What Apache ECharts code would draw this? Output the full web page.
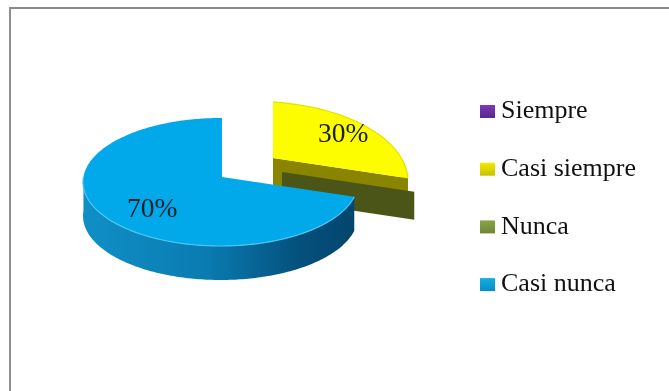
<!DOCTYPE html>
<html>
<head>
<meta charset="utf-8">
<style>html,body{margin:0;padding:0;background:#fff}#c{width:669px;height:391px;filter:blur(0.4px)}</style>
<script src="https://cdn.jsdelivr.net/npm/echarts@6/dist/echarts.min.js"></script>
</head>
<body>
<div id="c"></div>
<script>
const categories = ['Siempre', 'Casi siempre', 'Nunca', 'Casi nunca'];
const values = [0, 30, 0, 70];
const labels = ['', '30%', '', '70%'];

const topColors = ['#6a2fa0', '#fdfd00', '#7f9a3f', '#02a9ea'];
const wallColors = ['#4a2070', '#8a8500', '#4b5518', '#04507c'];
const rimStrokes = ['#6a2fa0', '#e2e200', '#7f9a3f', '#4cc6f2'];
const legendTop = ['#7a3cb4', '#f2ea00', '#8aa548', '#14aee6'];
const legendBottom = ['#5a2590', '#c8c000', '#6d8635', '#0a8cc4'];
// each slice: apex on screen, and the ellipse its rim lies on
const apexX = [222, 273, 282, 222];
const apexY = [177, 158, 172, 177];
const ellipseX = [220.5, 255, 280.5, 220.5];
const ellipseY = [182, 181.5, 177, 182];
const radiusX = [137.5, 153, 137.5, 137.5];
const radiusY = [64, 80, 64, 64];
const depth = [0, 28, 28, 34];
const rayX = 139, rayY = 64;
const labelFraction = [0.62, 0.75, 0.62, 0.593];
const labelDy = [0, 0, 0, 9];

const total = values.reduce((a, b) => a + b, 0);
const starts = values.map((_, i) => values.slice(0, i).reduce((a, b) => a + b, 0) / total * 360);

function renderSlice(i) {
  return function (params, api) {
    const value = api.value(0);
    const a0 = starts[i], a1 = a0 + value / total * 360;
    const ax = apexX[i], ay = apexY[i], d = depth[i];
    const apex = [ax, ay];
    // rim point: cast a ray from the apex at this pie angle onto the slice's ellipse
    const at = deg => {
      const r = deg * Math.PI / 180;
      const dx = rayX * Math.sin(r) / radiusX[i], dy = -rayY * Math.cos(r) / radiusY[i];
      const px = (ax - ellipseX[i]) / radiusX[i], py = (ay - ellipseY[i]) / radiusY[i];
      const A = dx * dx + dy * dy, B = 2 * (px * dx + py * dy), C = px * px + py * py - 1;
      const t = (-B + Math.sqrt(B * B - 4 * A * C)) / (2 * A);
      return [ax + t * rayX * Math.sin(r), ay - t * rayY * Math.cos(r)];
    };
    const arc = (from, to) => {
      const pts = [];
      const n = Math.max(1, Math.ceil(Math.abs(to - from)));
      for (let k = 0; k <= n; k++) pts.push(at(from + (to - from) * k / n));
      return pts;
    };
    const down = p => [p[0], p[1] + d];
    const children = [];

    // wall of the cut at the end angle, when it faces the viewer
    if (a1 > 0 && a1 < 180) {
      const rim = at(a1);
      children.push({
        type: 'polygon',
        shape: { points: [apex, rim, down(rim), down(apex)] },
        style: { fill: wallColors[i] }
      });
    }
    // outer rim wall: the front half of the ellipse only
    const v0 = Math.max(a0, 90), v1 = Math.min(a1, 270);
    if (v1 > v0) {
      const top = arc(v0, v1);
      const bottom = top.slice().reverse().map(down);
      children.push({
        type: 'polygon',
        shape: { points: top.concat(bottom) },
        style: {
          fill: i === 1 ? wallColors[i] : new echarts.graphic.LinearGradient(0, 0, 1, 0, [
            { offset: 0, color: '#0f8fc6' },
            { offset: 0.45, color: '#0a7cb2' },
            { offset: 0.8, color: '#04507c' },
            { offset: 1, color: '#03466e' }
          ])
        }
      });
    }
    // top face
    if (value > 0) {
      children.push({
        type: 'polygon',
        shape: { points: [apex].concat(arc(a0, a1)) },
        style: { fill: topColors[i] }
      });
      children.push({
        type: 'polyline',
        shape: { points: i === 3 ? arc(v0, v1) : arc(a0, a1) },
        style: { fill: null, stroke: rimStrokes[i], lineWidth: 1.2 }
      });
      const mid = at((a0 + a1) / 2);
      const f = labelFraction[i];
      children.push({
        type: 'text',
        style: {
          x: ax + (mid[0] - ax) * f,
          y: ay + (mid[1] - ay) * f + labelDy[i],
          text: labels[i],
          font: '27.5px "Liberation Serif", serif',
          fill: '#14202a',
          align: 'center',
          verticalAlign: 'middle'
        }
      });
    }
    return { type: 'group', children };
  };
}

const chart = echarts.init(document.getElementById('c'), null, { renderer: 'canvas' });
chart.setOption({
  animation: false,
  backgroundColor: '#fff',
  graphic: [
    { type: 'rect', shape: { x: 9, y: 7, width: 660, height: 2 }, style: { fill: '#8a8a8a' }, silent: true },
    { type: 'rect', shape: { x: 9, y: 7, width: 2, height: 384 }, style: { fill: '#8f8f8f' }, silent: true }
  ],
  legend: {
    orient: 'vertical',
    left: 480,
    top: 98.5,
    padding: 0,
    itemWidth: 15,
    itemHeight: 13,
    itemGap: 31.7,
    selectedMode: false,
    textStyle: {
      fontFamily: '"Liberation Serif", serif',
      fontSize: 26,
      color: '#111',
      padding: [0, 0, 0, 1]
    },
    data: categories.map((name, i) => ({
      name,
      icon: 'rect',
      itemStyle: {
        color: new echarts.graphic.LinearGradient(0, 0, 0, 1, [
          { offset: 0, color: legendTop[i] },
          { offset: 1, color: legendBottom[i] }
        ])
      }
    }))
  },
  series: categories.map((name, i) => ({
    type: 'custom',
    name,
    coordinateSystem: 'none',
    silent: true,
    z: i + 2,
    data: [[values[i]]],
    renderItem: renderSlice(i)
  }))
});
</script>
</body>
</html>
